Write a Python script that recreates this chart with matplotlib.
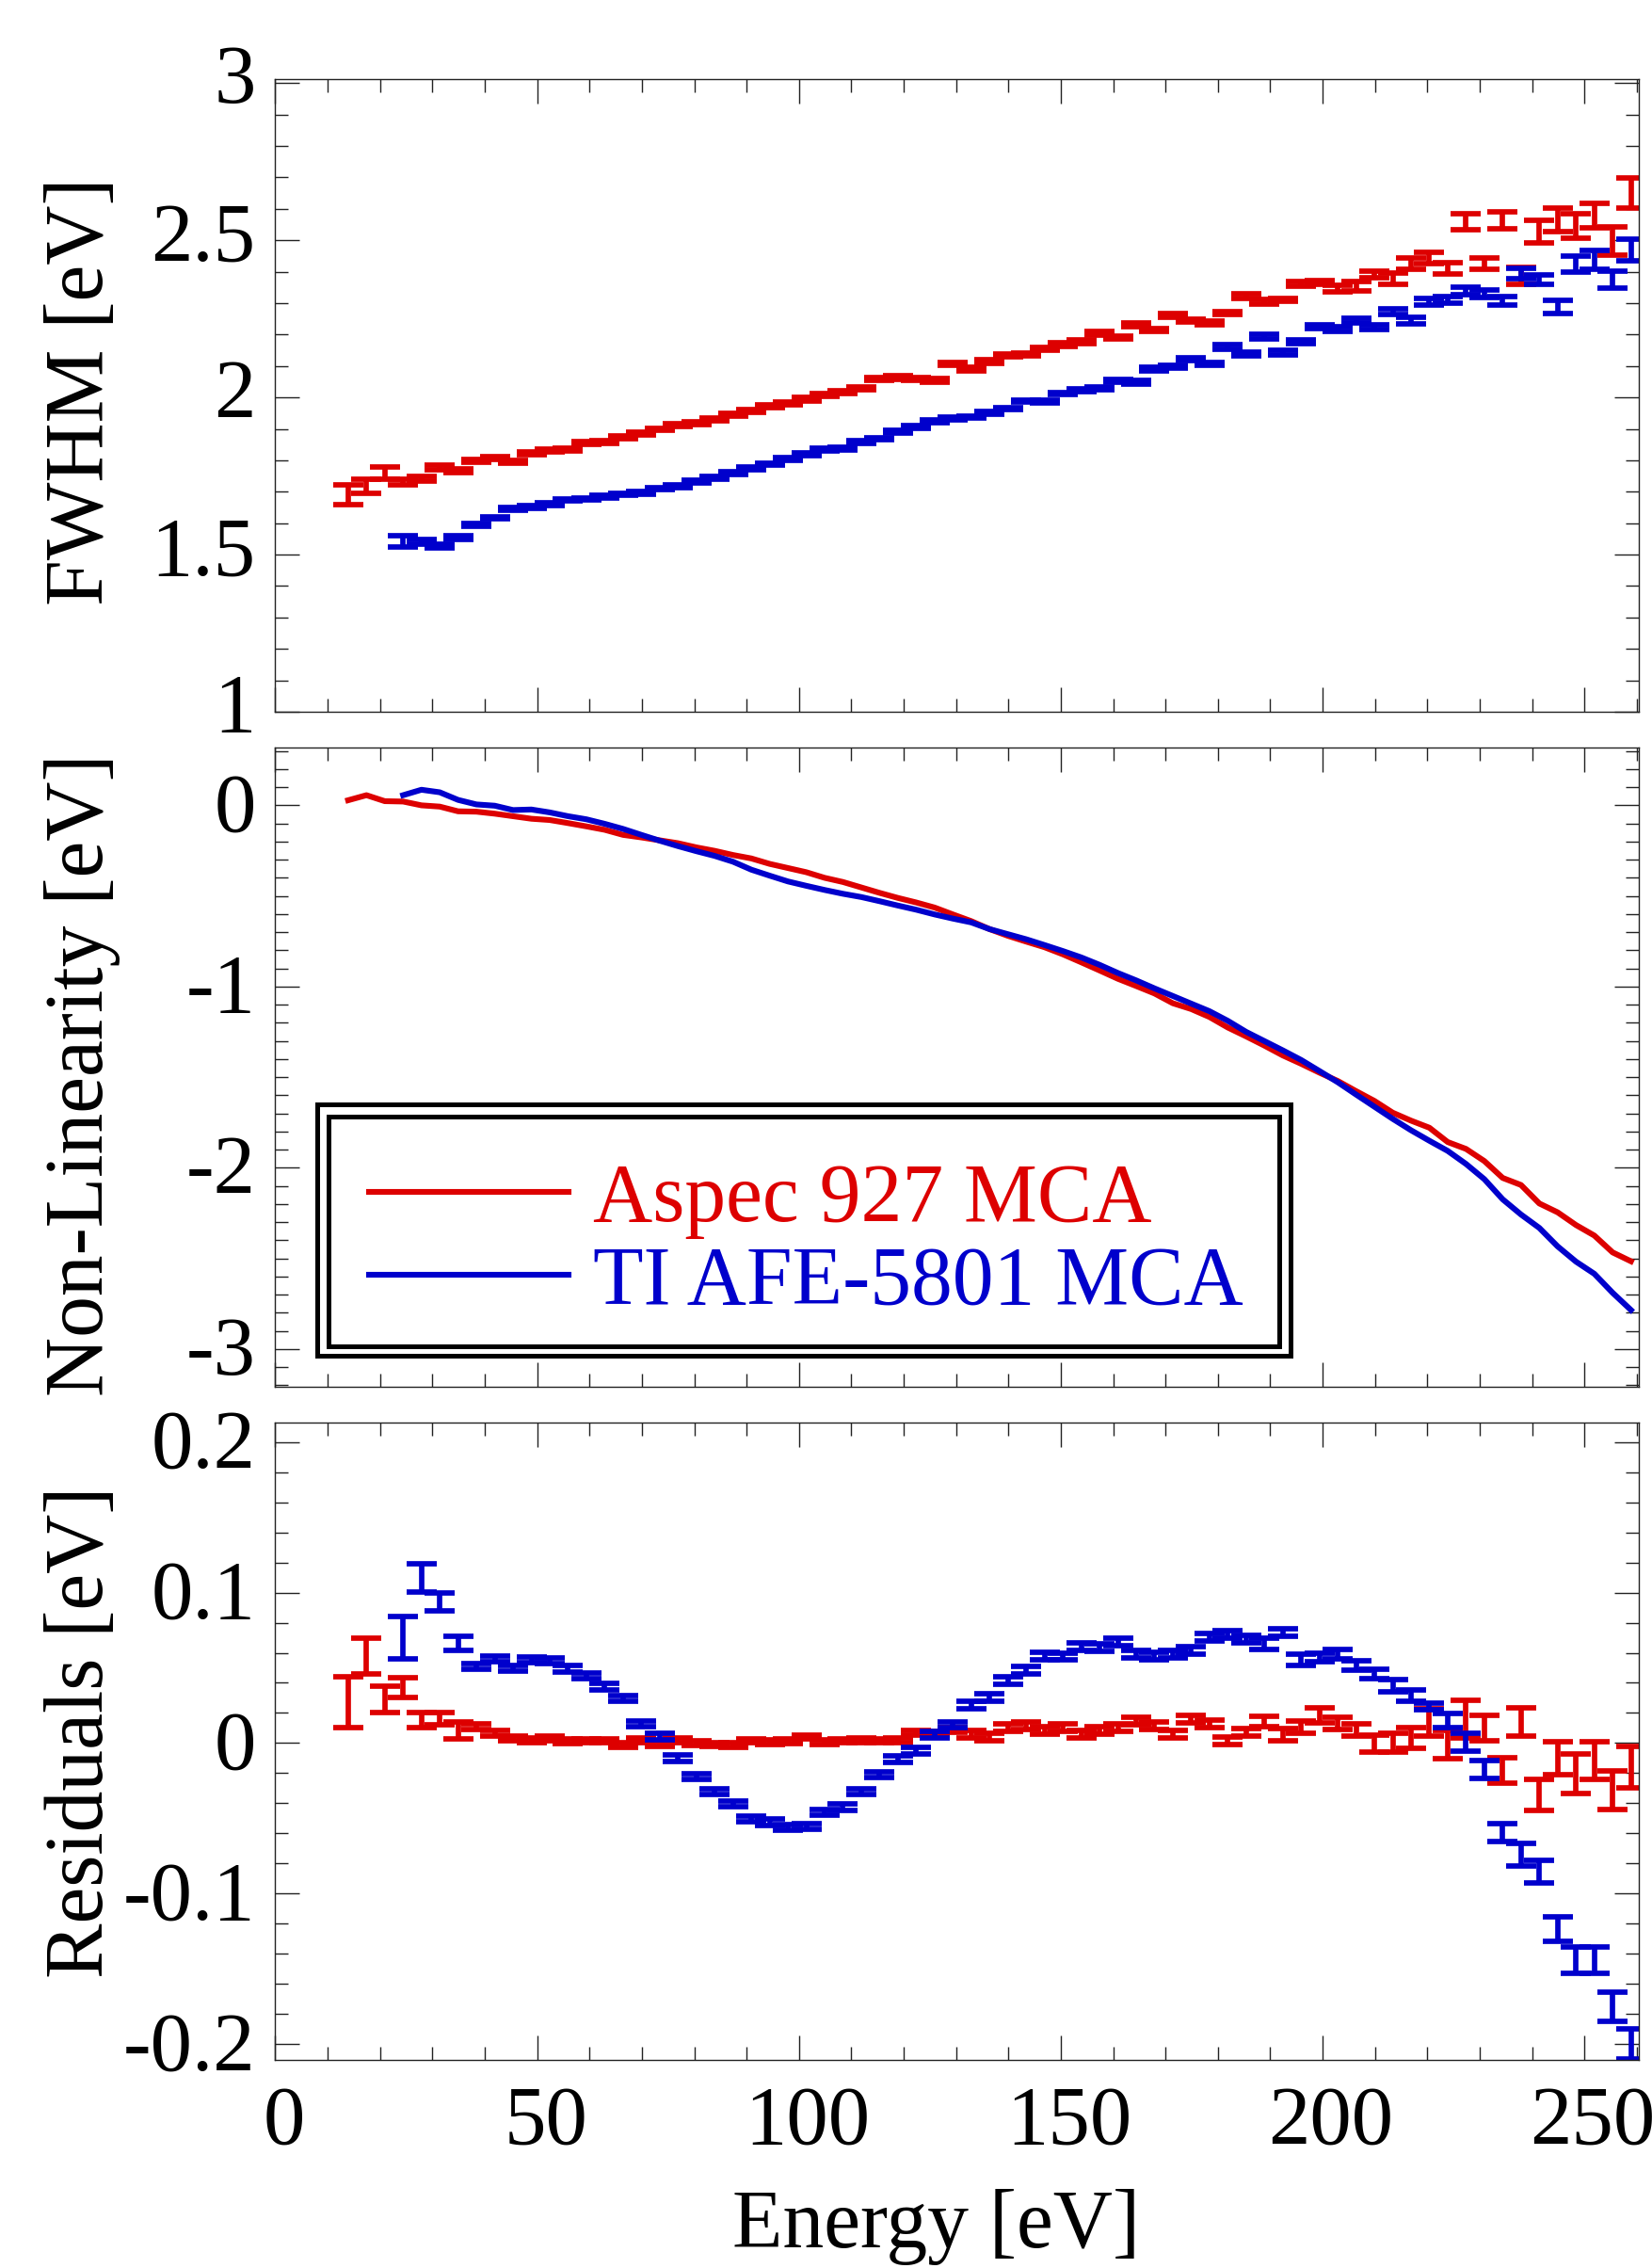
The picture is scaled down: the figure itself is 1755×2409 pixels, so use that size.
import matplotlib
matplotlib.use("Agg")
import matplotlib.pyplot as plt
from matplotlib.ticker import MultipleLocator, FuncFormatter
from matplotlib.transforms import ScaledTranslation
from matplotlib.patches import Rectangle

# ---------------- data ----------------
energy_aspec = [13.9, 17.4, 20.9, 24.4, 27.9, 31.4, 34.9, 38.4, 41.9, 45.4,
                48.9, 52.4, 55.9, 59.4, 62.9, 66.4, 69.9, 73.4, 76.9, 80.4,
                83.9, 87.4, 90.9, 94.4, 97.9, 101.4, 104.9, 108.4, 111.9, 115.4,
                118.9, 122.4, 125.9, 129.4, 132.9, 136.4, 139.9, 143.4, 146.9, 150.4,
                153.9, 157.4, 160.9, 164.4, 167.9, 171.4, 174.9, 178.4, 181.9, 185.4,
                188.9, 192.4, 195.9, 199.4, 202.9, 206.4, 209.9, 213.4, 216.9, 220.4,
                223.9, 227.4, 230.9, 234.4, 237.9, 241.4, 244.9, 248.4, 251.9, 255.4,
                258.9]
energy_ti = [24.4, 27.9, 31.4, 34.9, 38.4, 41.9, 45.4,
             48.9, 52.4, 55.9, 59.4, 62.9, 66.4, 69.9, 73.4, 76.9, 80.4,
             83.9, 87.4, 90.9, 94.4, 97.9, 101.4, 104.9, 108.4, 111.9, 115.4,
             118.9, 122.4, 125.9, 129.4, 132.9, 136.4, 139.9, 143.4, 146.9, 150.4,
             153.9, 157.4, 160.9, 164.4, 167.9, 171.4, 174.9, 178.4, 181.9, 185.4,
             188.9, 192.4, 195.9, 199.4, 202.9, 206.4, 209.9, 213.4, 216.9, 220.4,
             223.9, 227.4, 230.9, 234.4, 237.9, 241.4, 244.9, 248.4, 251.9, 255.4,
             258.9]

fwhm_aspec = [1.690, 1.718, 1.759, 1.731, 1.741, 1.777, 1.768, 1.799, 1.808, 1.795,
              1.822, 1.832, 1.835, 1.855, 1.859, 1.874, 1.886, 1.899, 1.913, 1.918,
              1.930, 1.946, 1.958, 1.972, 1.981, 1.995, 2.008, 2.016, 2.029, 2.059,
              2.063, 2.059, 2.054, 2.106, 2.090, 2.114, 2.134, 2.137, 2.154, 2.168,
              2.177, 2.204, 2.190, 2.231, 2.214, 2.261, 2.244, 2.237, 2.268, 2.322,
              2.304, 2.311, 2.362, 2.367, 2.347, 2.354, 2.391, 2.378, 2.425, 2.445,
              2.412, 2.559, 2.425, 2.563, 2.387, 2.528, 2.566, 2.546, 2.579, 2.499,
              2.650]
fwhm_aspec_err = [0.031, 0.022, 0.020, 0.008, 0.007, 0.007, 0.006, 0.004, 0.004, 0.004,
                  0.004, 0.004, 0.004, 0.004, 0.004, 0.004, 0.004, 0.004, 0.004, 0.004,
                  0.004, 0.005, 0.005, 0.005, 0.005, 0.005, 0.005, 0.005, 0.005, 0.005,
                  0.005, 0.005, 0.005, 0.005, 0.005, 0.005, 0.005, 0.005, 0.005, 0.005,
                  0.005, 0.005, 0.005, 0.005, 0.005, 0.005, 0.005, 0.005, 0.005, 0.008,
                  0.007, 0.005, 0.008, 0.006, 0.010, 0.015, 0.011, 0.018, 0.018, 0.018,
                  0.018, 0.025, 0.018, 0.027, 0.028, 0.035, 0.038, 0.038, 0.038, 0.045,
                  0.048]
fwhm_ti = [1.542, 1.540, 1.527, 1.554, 1.594, 1.617, 1.645, 1.651, 1.661, 1.674,
           1.677, 1.685, 1.692, 1.697, 1.710, 1.718, 1.732, 1.744, 1.759, 1.775,
           1.788, 1.804, 1.820, 1.834, 1.838, 1.858, 1.869, 1.891, 1.906, 1.925,
           1.933, 1.938, 1.952, 1.965, 1.989, 1.987, 2.012, 2.023, 2.029, 2.052,
           2.048, 2.090, 2.097, 2.121, 2.106, 2.161, 2.137, 2.193, 2.143, 2.177,
           2.224, 2.217, 2.244, 2.224, 2.273, 2.244, 2.304, 2.311, 2.338, 2.331,
           2.307, 2.395, 2.375, 2.287, 2.425, 2.438, 2.375, 2.469]
fwhm_ti_err = [0.019, 0.008, 0.007, 0.007, 0.004, 0.004, 0.004, 0.004, 0.004, 0.004,
               0.004, 0.004, 0.004, 0.004, 0.004, 0.004, 0.004, 0.004, 0.004, 0.004,
               0.004, 0.004, 0.004, 0.004, 0.004, 0.004, 0.004, 0.004, 0.004, 0.004,
               0.004, 0.004, 0.004, 0.004, 0.004, 0.004, 0.004, 0.004, 0.005, 0.005,
               0.005, 0.005, 0.005, 0.005, 0.005, 0.007, 0.006, 0.007, 0.007, 0.006,
               0.006, 0.007, 0.007, 0.008, 0.008, 0.010, 0.010, 0.010, 0.012, 0.012,
               0.014, 0.016, 0.016, 0.021, 0.025, 0.031, 0.028, 0.034]

nonlin_aspec = [0.028, 0.056, 0.023, 0.021, 0.000, -0.007, -0.033, -0.035, -0.046, -0.060,
                -0.074, -0.081, -0.098, -0.116, -0.135, -0.163, -0.177, -0.193, -0.209, -0.232,
                -0.251, -0.274, -0.293, -0.323, -0.346, -0.369, -0.400, -0.423, -0.453, -0.483,
                -0.511, -0.536, -0.564, -0.602, -0.639, -0.683, -0.720, -0.752, -0.783, -0.822,
                -0.866, -0.911, -0.957, -0.997, -1.038, -1.092, -1.124, -1.168, -1.226, -1.275,
                -1.326, -1.380, -1.426, -1.475, -1.521, -1.577, -1.631, -1.696, -1.740, -1.779,
                -1.858, -1.896, -1.963, -2.056, -2.095, -2.197, -2.246, -2.316, -2.374, -2.467,
                -2.516]
nonlin_ti = [0.056, 0.086, 0.072, 0.030, 0.005, -0.002, -0.026, -0.023, -0.039, -0.060,
             -0.077, -0.102, -0.130, -0.163, -0.195, -0.225, -0.253, -0.279, -0.311, -0.355,
             -0.388, -0.420, -0.444, -0.467, -0.488, -0.506, -0.529, -0.553, -0.576, -0.602,
             -0.625, -0.646, -0.683, -0.711, -0.739, -0.771, -0.804, -0.839, -0.880, -0.925,
             -0.966, -1.010, -1.052, -1.094, -1.136, -1.189, -1.250, -1.301, -1.352, -1.405,
             -1.466, -1.528, -1.596, -1.663, -1.730, -1.793, -1.851, -1.907, -1.979, -2.063,
             -2.174, -2.258, -2.332, -2.434, -2.518, -2.585, -2.690, -2.785]

resid_aspec = [0.027, 0.058, 0.029, 0.037, 0.015, 0.016, 0.0086, 0.011, 0.0066, 0.003,
               0.002, 0.003, 0.001, 0.0015, 0.0015, -0.0015, 0.002, -0.0005, 0.002, 0.0,
               -0.001, -0.0015, 0.0015, 0.0005, 0.001, 0.004, 0.0005, 0.0015, 0.002, 0.0015,
               0.002, 0.007, 0.006, 0.0085, 0.006, 0.004, 0.010, 0.0115, 0.0086, 0.010,
               0.006, 0.0086, 0.010, 0.0144, 0.0115, 0.006, 0.016, 0.013, 0.0015, 0.007,
               0.0144, 0.0057, 0.0106, 0.0184, 0.013, 0.0086, -0.0003, 0.0003, 0.0034, 0.0138,
               -0.0011, 0.0158, 0.010, -0.0184, 0.014, -0.0345, -0.010, -0.0204, -0.0115, -0.0313,
               -0.016]
resid_aspec_err = [0.017, 0.012, 0.009, 0.0066, 0.005, 0.004, 0.0057, 0.002, 0.002, 0.0015,
                   0.0015, 0.0015, 0.0015, 0.0015, 0.0015, 0.0015, 0.0015, 0.0015, 0.0015, 0.0015,
                   0.0015, 0.0015, 0.0015, 0.0015, 0.0015, 0.0015, 0.0015, 0.0015, 0.0015, 0.0015,
                   0.0015, 0.0015, 0.0015, 0.0015, 0.0025, 0.0025, 0.0025, 0.0025, 0.0025, 0.0025,
                   0.0025, 0.0025, 0.0025, 0.0025, 0.0025, 0.0025, 0.0025, 0.0025, 0.0025, 0.0025,
                   0.0033, 0.0039, 0.0043, 0.005, 0.004, 0.004, 0.0057, 0.0065, 0.0068, 0.0089,
                   0.0093, 0.0125, 0.0082, 0.0085, 0.0093, 0.0102, 0.011, 0.0129, 0.0125, 0.0128,
                   0.0136]
resid_ti = [0.070, 0.110, 0.0938, 0.066, 0.051, 0.056, 0.0497, 0.0552, 0.0546, 0.0494,
            0.0445, 0.0374, 0.0296, 0.0129, 0.0043, -0.010, -0.0224, -0.0322, -0.0402, -0.0503,
            -0.0526, -0.056, -0.0552, -0.046, -0.0425, -0.0322, -0.021, -0.0106, -0.005, 0.0057,
            0.012, 0.0253, 0.0302, 0.0417, 0.0483, 0.058, 0.0575, 0.0638, 0.0632, 0.0675,
            0.0589, 0.058, 0.0589, 0.0618, 0.0704, 0.0724, 0.069, 0.0661, 0.0733, 0.0552,
            0.0569, 0.0589, 0.0517, 0.046, 0.038, 0.0316, 0.0244, 0.0149, 0.0006, -0.0178,
            -0.0595, -0.0741, -0.0856, -0.1236, -0.1443, -0.1443, -0.1753, -0.200]
resid_ti_err = [0.0139, 0.0094, 0.0058, 0.0047, 0.002, 0.002, 0.002, 0.002, 0.002, 0.002,
                0.002, 0.002, 0.002, 0.002, 0.002, 0.002, 0.002, 0.002, 0.002, 0.002,
                0.002, 0.002, 0.002, 0.002, 0.002, 0.002, 0.002, 0.002, 0.002, 0.002,
                0.002, 0.0025, 0.0025, 0.0025, 0.0025, 0.0025, 0.0025, 0.0025, 0.0025, 0.0025,
                0.0025, 0.0025, 0.0025, 0.0025, 0.0025, 0.0025, 0.0025, 0.0036, 0.0025, 0.0036,
                0.003, 0.003, 0.003, 0.003, 0.0042, 0.004, 0.0024, 0.0049, 0.006, 0.006,
                0.006, 0.0075, 0.0075, 0.0082, 0.0089, 0.0089, 0.0096, 0.010]

label_aspec = "Aspec 927 MCA"
label_ti = "TI AFE-5801 MCA"
xlabel = "Energy [eV]"
ylabels = ["FWHM [eV]", "Non-Linearity [eV]", "Residuals [eV]"]

# ---------------- style ----------------
RED = "#dd0000"
BLUE = "#0000cc"
AXC = "#222222"
W, H, DPI = 1756, 2409, 100
FS = 63

plt.rcParams["font.family"] = ["Liberation Serif", "DejaVu Serif"]
plt.rcParams["axes.unicode_minus"] = False

fig = plt.figure(figsize=(W / DPI, H / DPI), dpi=DPI)


def px_axes(left, top, right, bottom):
    return fig.add_axes([left / W, 1 - bottom / H, (right - left) / W, (bottom - top) / H])


ax1 = px_axes(292.5, 84, 1741, 756)
ax2 = px_axes(292.5, 794, 1741, 1472.7)
ax3 = px_axes(292.5, 1510.7, 1741, 2187.7)
axes = [ax1, ax2, ax3]

eb = dict(fmt="none", elinewidth=4.1, capsize=11.5, capthick=4.1)

ax1.errorbar(energy_aspec, fwhm_aspec, yerr=fwhm_aspec_err, ecolor=RED, **eb)
ax1.errorbar(energy_ti, fwhm_ti, yerr=fwhm_ti_err, ecolor=BLUE, **eb)

l_red, = ax2.plot(energy_aspec, nonlin_aspec, color=RED, lw=4.4, label=label_aspec)
l_blue, = ax2.plot(energy_ti, nonlin_ti, color=BLUE, lw=4.4, label=label_ti)

ax3.errorbar(energy_aspec, resid_aspec, yerr=resid_aspec_err, ecolor=RED, **eb)
ax3.errorbar(energy_ti, resid_ti, yerr=resid_ti_err, ecolor=BLUE, **eb)


def fmt(v, pos):
    if abs(v) < 1e-9:
        return "0"
    return "%g" % round(v, 6)


ylims = [(1.0, 3.013), (-3.207, 0.319), (-0.2103, 0.2131)]
ymaj = [0.5, 1.0, 0.1]
ymin = [0.1, 0.1, 0.02]
for ax, yl, ma, mi, lab in zip(axes, ylims, ymaj, ymin, ylabels):
    ax.set_xlim(0, 260.4)
    ax.set_ylim(*yl)
    ax.xaxis.set_major_locator(MultipleLocator(50))
    ax.xaxis.set_minor_locator(MultipleLocator(10))
    ax.yaxis.set_major_locator(MultipleLocator(ma))
    ax.yaxis.set_minor_locator(MultipleLocator(mi))
    ax.yaxis.set_major_formatter(FuncFormatter(fmt))
    ax.xaxis.set_major_formatter(FuncFormatter(fmt))
    ax.tick_params(which="both", direction="in", top=True, right=True,
                   width=1.0, color=AXC, labelsize=64)
    ax.tick_params(which="major", length=18.7)
    ax.tick_params(which="minor", length=10)
    ax.tick_params(axis="y", pad=15)
    ax.tick_params(axis="x", pad=19.5)
    for sp in ax.spines.values():
        sp.set_linewidth(1.0)
        sp.set_color(AXC)
    ax.set_ylabel(lab, fontsize=FS)

ax1.tick_params(labelbottom=False)
ax2.tick_params(labelbottom=False)

# y-label positions (centres measured in pixels)
ax1.yaxis.set_label_coords((88 - 292.5) / 1448.5, (756 - 416) / 672)
ax2.yaxis.set_label_coords((88 - 292.5) / 1448.5, 0.488)
ax3.yaxis.set_label_coords((88 - 292.5) / 1448.5, 0.5136)
for ax in axes:
    ax.yaxis.label.set_verticalalignment("center")

ax3.set_xlabel(xlabel, fontsize=FS)
ax3.xaxis.set_label_coords((995 - 292.5) / 1448.5, -(2387.3 - 2187.7) / 677)
ax3.xaxis.label.set_verticalalignment("baseline")

# legend with a double frame
leg = ax2.legend(handles=[l_red, l_blue], loc="upper left",
                 bbox_to_anchor=((392 - 292.5) / 1448.5, (1472.7 - 1235) / 678.7),
                 frameon=False, fontsize=FS, borderpad=0, borderaxespad=0,
                 handlelength=2.42, handletextpad=0.3, labelspacing=0.07,
                 labelcolor="linecolor")
for (x0, y0, x1, y1) in [(337.5, 1172.5, 1371, 1440), (349.5, 1185.5, 1359.5, 1429.5)]:
    ax2.add_patch(Rectangle(((x0 - 292.5) / 1448.5, (1472.7 - y1) / 678.7),
                            (x1 - x0) / 1448.5, (y1 - y0) / 678.7,
                            transform=ax2.transAxes, fill=False, ec="black",
                            lw=3.6, zorder=5))

# small ROOT-like offsets of the tick labels
fig.canvas.draw()
for ax, dy in zip(axes, [10, 4, 4]):
    off = ScaledTranslation(0, dy / DPI, fig.dpi_scale_trans)
    for t in ax.yaxis.get_major_ticks():
        t.label1.set_transform(t.label1.get_transform() + off)
offx = ScaledTranslation(9 / DPI, 0, fig.dpi_scale_trans)
for t in ax3.xaxis.get_major_ticks():
    t.label1.set_transform(t.label1.get_transform() + offx)

fig.savefig("out.png", dpi=DPI)
